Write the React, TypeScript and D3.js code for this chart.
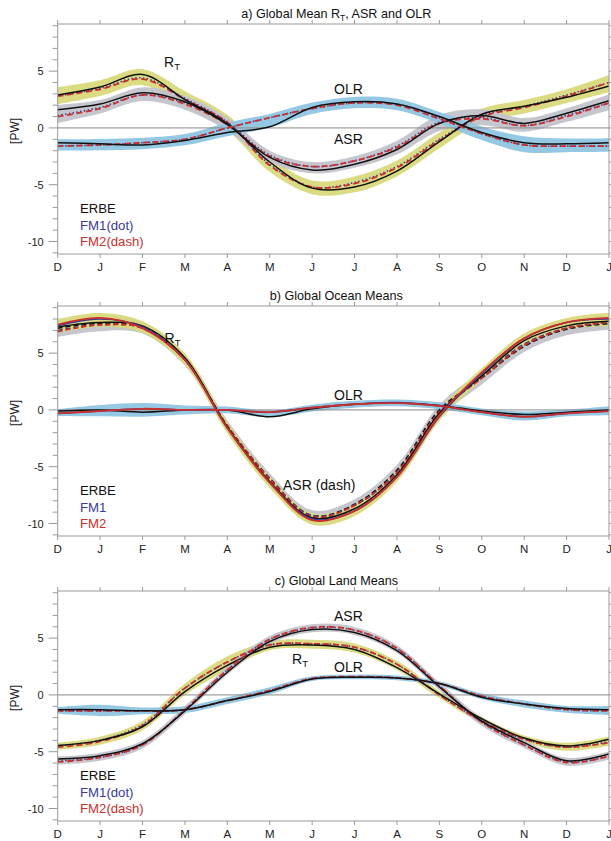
import React from "react";
import * as d3 from "d3";

const MONTHS = ["D", "J", "F", "M", "A", "M", "J", "J", "A", "S", "O", "N", "D", "J"];
const Y_MAJOR = [-10, -5, 0, 5];

// Panel a) Global mean
const A_RT_ERBE = [2.9, 3.6, 4.7, 2.5, 0.4, -3.0, -5.3, -5.2, -3.8, -1.2, 1.2, 1.9, 2.7, 3.7];
const A_RT_FM1 = [2.8, 3.5, 4.4, 2.6, 0.5, -3.2, -5.2, -4.8, -3.4, -1.0, 1.1, 1.9, 2.9, 4.0];
const A_RT_FM2 = [2.8, 3.4, 4.3, 2.5, 0.5, -3.3, -5.2, -4.9, -3.5, -1.1, 1.0, 1.8, 2.8, 4.0];
const A_RT_HALF = [0.75, 0.7, 0.7, 0.7, 0.7, 0.7, 0.6, 0.7, 0.7, 0.7, 0.6, 0.6, 0.6, 0.75];
const A_ASR_ERBE = [1.6, 2.1, 3.1, 2.3, 0.3, -2.6, -3.7, -3.2, -1.9, 0.4, 1.1, 0.4, 1.3, 2.4];
const A_ASR_FM1 = [1.1, 1.8, 2.9, 2.2, 0.4, -2.4, -3.4, -2.9, -1.6, 0.5, 0.9, 0.2, 1.1, 2.2];
const A_ASR_FM2 = [1.0, 1.7, 2.9, 2.1, 0.3, -2.5, -3.4, -2.9, -1.7, 0.4, 0.8, 0.2, 1.0, 2.2];
const A_ASR_HALF = [0.8, 0.6, 0.6, 0.6, 0.6, 0.5, 0.5, 0.5, 0.6, 0.7, 0.7, 0.6, 0.6, 0.7];
const A_OLR_ERBE = [-1.3, -1.4, -1.5, -1.1, -0.4, 0.1, 1.8, 2.3, 2.1, 1.0, -0.4, -1.3, -1.4, -1.3];
const A_OLR_FM1 = [-1.6, -1.5, -1.3, -1.0, 0.0, 0.9, 1.7, 2.2, 2.1, 0.9, -0.5, -1.5, -1.6, -1.6];
const A_OLR_FM2 = [-1.6, -1.5, -1.3, -1.0, 0.0, 0.9, 1.7, 2.2, 2.0, 0.8, -0.5, -1.5, -1.6, -1.6];
const A_OLR_HALF = [0.5, 0.5, 0.5, 0.5, 0.6, 0.6, 0.5, 0.5, 0.5, 0.5, 0.6, 0.7, 0.6, 0.6];

// Panel b) Ocean
const B_RT_ERBE = [7.3, 7.7, 7.4, 4.6, -1.5, -6.3, -9.5, -8.7, -5.7, -0.3, 3.0, 6.1, 7.4, 7.8];
const B_RT_FM1 = [7.4, 8.0, 7.3, 4.4, -1.6, -6.4, -9.6, -8.9, -5.9, -0.6, 3.2, 6.3, 7.7, 8.0];
const B_RT_FM2 = [7.5, 8.1, 7.2, 4.4, -1.6, -6.4, -9.7, -8.9, -5.9, -0.5, 3.3, 6.3, 7.7, 8.1];
const B_RT_HALF = [0.6, 0.6, 0.5, 0.5, 0.5, 0.5, 0.5, 0.5, 0.5, 0.5, 0.5, 0.5, 0.5, 0.6];
const B_ASR_ERBE = [7.2, 7.6, 7.3, 4.4, -1.4, -6.0, -9.3, -8.3, -5.3, 0.0, 2.8, 5.6, 7.1, 7.6];
const B_ASR_FM1 = [7.0, 7.5, 7.2, 4.4, -1.4, -6.1, -9.3, -8.4, -5.5, -0.2, 2.9, 5.8, 7.2, 7.7];
const B_ASR_FM2 = [6.9, 7.5, 7.2, 4.4, -1.4, -6.1, -9.4, -8.4, -5.5, -0.2, 2.8, 5.7, 7.2, 7.7];
const B_ASR_HALF = [0.6, 0.6, 0.5, 0.5, 0.5, 0.5, 0.5, 0.5, 0.6, 0.6, 0.6, 0.6, 0.6, 0.6];
const B_OLR_ERBE = [-0.1, 0.0, -0.2, 0.0, 0.0, -0.6, 0.1, 0.5, 0.6, 0.4, -0.1, -0.4, -0.2, 0.0];
const B_OLR_FM1 = [-0.3, -0.1, 0.1, 0.0, 0.0, -0.2, 0.2, 0.5, 0.65, 0.35, -0.2, -0.6, -0.3, -0.1];
const B_OLR_FM2 = [-0.3, -0.1, 0.1, 0.0, 0.0, -0.2, 0.2, 0.5, 0.6, 0.35, -0.2, -0.6, -0.3, -0.1];
const B_OLR_HALF = [0.3, 0.5, 0.6, 0.4, 0.3, 0.3, 0.3, 0.3, 0.3, 0.3, 0.3, 0.4, 0.3, 0.4];

// Panel c) Land
const C_ASR_ERBE = [-5.65, -5.35, -4.3, -1.4, 2.0, 4.7, 5.75, 5.5, 3.9, 0.7, -2.3, -4.2, -5.8, -5.2];
const C_ASR_FM1 = [-5.8, -5.5, -4.4, -1.3, 2.2, 4.9, 5.9, 5.7, 4.1, 0.8, -2.4, -4.4, -5.9, -5.4];
const C_ASR_FM2 = [-5.9, -5.5, -4.4, -1.3, 2.2, 4.9, 5.95, 5.7, 4.1, 0.8, -2.4, -4.4, -5.95, -5.4];
const C_ASR_HALF = [0.35, 0.35, 0.35, 0.35, 0.35, 0.35, 0.35, 0.35, 0.35, 0.35, 0.35, 0.35, 0.35, 0.35];
const C_RT_ERBE = [-4.45, -4.0, -2.8, 0.3, 2.6, 4.2, 4.4, 4.0, 2.4, 0.1, -2.1, -3.8, -4.5, -3.9];
const C_RT_FM1 = [-4.5, -4.0, -2.6, 0.6, 2.9, 4.4, 4.5, 4.2, 2.7, 0.0, -2.3, -3.9, -4.6, -4.1];
const C_RT_FM2 = [-4.6, -4.1, -2.7, 0.6, 2.9, 4.4, 4.5, 4.2, 2.7, 0.0, -2.3, -3.9, -4.6, -4.2];
const C_RT_HALF = [0.3, 0.35, 0.4, 0.5, 0.6, 0.4, 0.4, 0.4, 0.4, 0.3, 0.3, 0.3, 0.35, 0.4];
const C_OLR_ERBE = [-1.3, -1.3, -1.4, -1.3, -0.5, 0.3, 1.4, 1.55, 1.5, 1.0, -0.2, -0.8, -1.2, -1.3];
const C_OLR_FM1 = [-1.4, -1.4, -1.4, -1.3, -0.5, 0.4, 1.45, 1.6, 1.5, 1.0, -0.1, -0.8, -1.3, -1.4];
const C_OLR_FM2 = [-1.4, -1.4, -1.4, -1.3, -0.5, 0.4, 1.45, 1.6, 1.5, 1.0, -0.1, -0.8, -1.3, -1.4];
const C_OLR_HALF = [0.3, 0.5, 0.3, 0.3, 0.3, 0.3, 0.2, 0.2, 0.2, 0.2, 0.25, 0.3, 0.3, 0.4];

const FONT = "'Liberation Sans', Arial, Helvetica, sans-serif";
const YELLOW = "#d9d97c";
const GRAY = "#c3c3cb";
const BLUE = "#8fc6e2";
const BLK = "#111111";
const FM1C = "#3b3b95";
const FM2C = "#c9302c";
const AXIS = "#9a9a9a";

const X0 = 57.7;
const X1 = 609;
const PH = 230;
const YDOM: [number, number] = [-11.1, 9.15];

type Series = {
  erbe: number[];
  fm1: number[];
  fm2: number[];
  half: number[];
  band: string;
  mode: "mixed" | "solid" | "dash";
};

type Label = { x: number; y: number; text: string; sub?: string };

function Panel(props: {
  id: string;
  top: number;
  title: React.ReactNode;
  series: Series[];
  labels: Label[];
  legend: string[];
  order: "a" | "b";
}) {
  const { id, top, title, series, labels, legend, order } = props;
  const x = d3.scaleLinear().domain([0, 13]).range([X0, X1]);
  const y = d3.scaleLinear().domain(YDOM).range([top + PH, top]);
  const curve = d3.curveCatmullRom.alpha(0.5);
  const line = d3
    .line<number>()
    .x((_, i) => x(i))
    .y((d) => y(d))
    .curve(curve);
  const bandPath = (s: Series) => {
    const idx = d3.range(s.erbe.length);
    const mid = idx.map((i) => (s.erbe[i] + s.fm1[i] + s.fm2[i]) / 3);
    return d3
      .area<number>()
      .x((i) => x(i))
      .y0((i) => y(mid[i] - s.half[i]))
      .y1((i) => y(mid[i] + s.half[i]))
      .curve(curve)(idx) as string;
  };
  const minor = d3.range(-11, 10);
  const bottom = top + PH;

  const lineEls: React.ReactNode[] = [];
  series.forEach((s, k) => {
    const dash = s.mode === "dash" ? "5,3" : undefined;
    const fm1 = (
      <path key={`f1${k}`} d={line(s.fm1) as string} fill="none" stroke={FM1C}
        strokeWidth={1.6} strokeDasharray={s.mode === "mixed" ? "1.4,2.4" : dash} />
    );
    const fm2 = (
      <path key={`f2${k}`} d={line(s.fm2) as string} fill="none" stroke={FM2C}
        strokeWidth={1.8} strokeDasharray={s.mode === "mixed" ? "6,3.5" : dash} />
    );
    const er = (
      <path key={`e${k}`} d={line(s.erbe) as string} fill="none" stroke={BLK}
        strokeWidth={1.5} strokeDasharray={dash} />
    );
    if (order === "a") lineEls.push(fm1, fm2, er);
    else lineEls.push(er, fm1, fm2);
  });

  return (
    <g>
      <defs>
        <clipPath id={`clip-${id}`}>
          <rect x={X0} y={top} width={X1 - X0} height={PH} />
        </clipPath>
      </defs>
      <text x={(X0 + X1) / 2 + 3} y={top - 6} textAnchor="middle" fontSize={12.6} fontFamily={FONT} fill="#111">
        {title}
      </text>
      <g clipPath={`url(#clip-${id})`}>
        {series.map((s, k) => (
          <path key={k} d={bandPath(s)} fill={s.band} stroke="none" opacity={0.95} />
        ))}
        <line x1={X0} x2={X1} y1={y(0)} y2={y(0)} stroke="#8a8a8a" strokeWidth={1} />
        {lineEls}
      </g>
      <rect x={X0} y={top} width={X1 - X0} height={PH} fill="none" stroke={AXIS} strokeWidth={1} />
      {minor.map((v) => {
        const major = Y_MAJOR.includes(v);
        const len = major ? 9 : 5;
        return (
          <g key={v}>
            <line x1={X0 - len} x2={X0} y1={y(v)} y2={y(v)} stroke={AXIS} strokeWidth={1} />
            <line x1={X1} x2={X1 + len} y1={y(v)} y2={y(v)} stroke={AXIS} strokeWidth={1} />
          </g>
        );
      })}
      {Y_MAJOR.map((v) => (
        <text key={v} x={X0 - 14} y={y(v) + 4} textAnchor="end" fontSize={11} fontFamily={FONT} fill="#222">
          {v}
        </text>
      ))}
      {MONTHS.map((m, i) => (
        <g key={i}>
          <line x1={x(i)} x2={x(i)} y1={top - 4} y2={top} stroke={AXIS} strokeWidth={1} />
          <line x1={x(i)} x2={x(i)} y1={bottom} y2={bottom + 4} stroke={AXIS} strokeWidth={1} />
          <text x={x(i)} y={bottom + 17} textAnchor="middle" fontSize={11.5} fontFamily={FONT} fill="#222">
            {m}
          </text>
        </g>
      ))}
      <text
        transform={`translate(19,${y(0) + 3}) rotate(-90)`}
        textAnchor="middle"
        fontSize={12}
        fontFamily={FONT}
        fill="#222"
      >
        [PW]
      </text>
      {labels.map((l, i) => (
        <text key={i} x={l.x} y={l.y} fontSize={14} fontFamily={FONT} fill="#111">
          {l.text}
          {l.sub ? (
            <tspan fontSize={9.5} dy={3}>
              {l.sub}
            </tspan>
          ) : null}
        </text>
      ))}
      {legend.map((t, i) => (
        <text key={t} x={80} y={top + 189 + i * 16.7} fontSize={13.2} fontFamily={FONT}
          fill={i === 0 ? "#111" : i === 1 ? FM1C : FM2C}>
          {t}
        </text>
      ))}
    </g>
  );
}

export default function App() {
  const seriesA: Series[] = [
    { erbe: A_RT_ERBE, fm1: A_RT_FM1, fm2: A_RT_FM2, half: A_RT_HALF, band: YELLOW, mode: "mixed" },
    { erbe: A_ASR_ERBE, fm1: A_ASR_FM1, fm2: A_ASR_FM2, half: A_ASR_HALF, band: GRAY, mode: "mixed" },
    { erbe: A_OLR_ERBE, fm1: A_OLR_FM1, fm2: A_OLR_FM2, half: A_OLR_HALF, band: BLUE, mode: "mixed" },
  ];
  const seriesB: Series[] = [
    { erbe: B_ASR_ERBE, fm1: B_ASR_FM1, fm2: B_ASR_FM2, half: B_ASR_HALF, band: GRAY, mode: "dash" },
    { erbe: B_RT_ERBE, fm1: B_RT_FM1, fm2: B_RT_FM2, half: B_RT_HALF, band: YELLOW, mode: "solid" },
    { erbe: B_OLR_ERBE, fm1: B_OLR_FM1, fm2: B_OLR_FM2, half: B_OLR_HALF, band: BLUE, mode: "solid" },
  ];
  const seriesC: Series[] = [
    { erbe: C_RT_ERBE, fm1: C_RT_FM1, fm2: C_RT_FM2, half: C_RT_HALF, band: YELLOW, mode: "mixed" },
    { erbe: C_ASR_ERBE, fm1: C_ASR_FM1, fm2: C_ASR_FM2, half: C_ASR_HALF, band: GRAY, mode: "mixed" },
    { erbe: C_OLR_ERBE, fm1: C_OLR_FM1, fm2: C_OLR_FM2, half: C_OLR_HALF, band: BLUE, mode: "mixed" },
  ];
  return (
    <svg width={611} height={841} style={{ position: "absolute", left: 0, top: 0, background: "#fff" }}>
      <rect x={0} y={0} width={611} height={841} fill="#fff" />
      <Panel
        id="a"
        top={24}
        order="a"
        title={
          <>
            a) Global Mean R<tspan fontSize={8.5} dy={3}>T</tspan>
            <tspan dy={-3}>, ASR and OLR</tspan>
          </>
        }
        series={seriesA}
        labels={[
          { x: 164, y: 67, text: "R", sub: "T" },
          { x: 334, y: 94, text: "OLR" },
          { x: 334, y: 144, text: "ASR" },
        ]}
        legend={["ERBE", "FM1(dot)", "FM2(dash)"]}
      />
      <Panel
        id="b"
        top={306}
        order="b"
        title="b) Global Ocean Means"
        series={seriesB}
        labels={[
          { x: 164.5, y: 343, text: "R", sub: "T" },
          { x: 334, y: 400, text: "OLR" },
          { x: 283, y: 490, text: "ASR (dash)" },
        ]}
        legend={["ERBE", "FM1", "FM2"]}
      />
      <Panel
        id="c"
        top={591}
        order="a"
        title="c) Global Land Means"
        series={seriesC}
        labels={[
          { x: 334, y: 621, text: "ASR" },
          { x: 292, y: 664, text: "R", sub: "T" },
          { x: 334, y: 672, text: "OLR" },
        ]}
        legend={["ERBE", "FM1(dot)", "FM2(dash)"]}
      />
    </svg>
  );
}
